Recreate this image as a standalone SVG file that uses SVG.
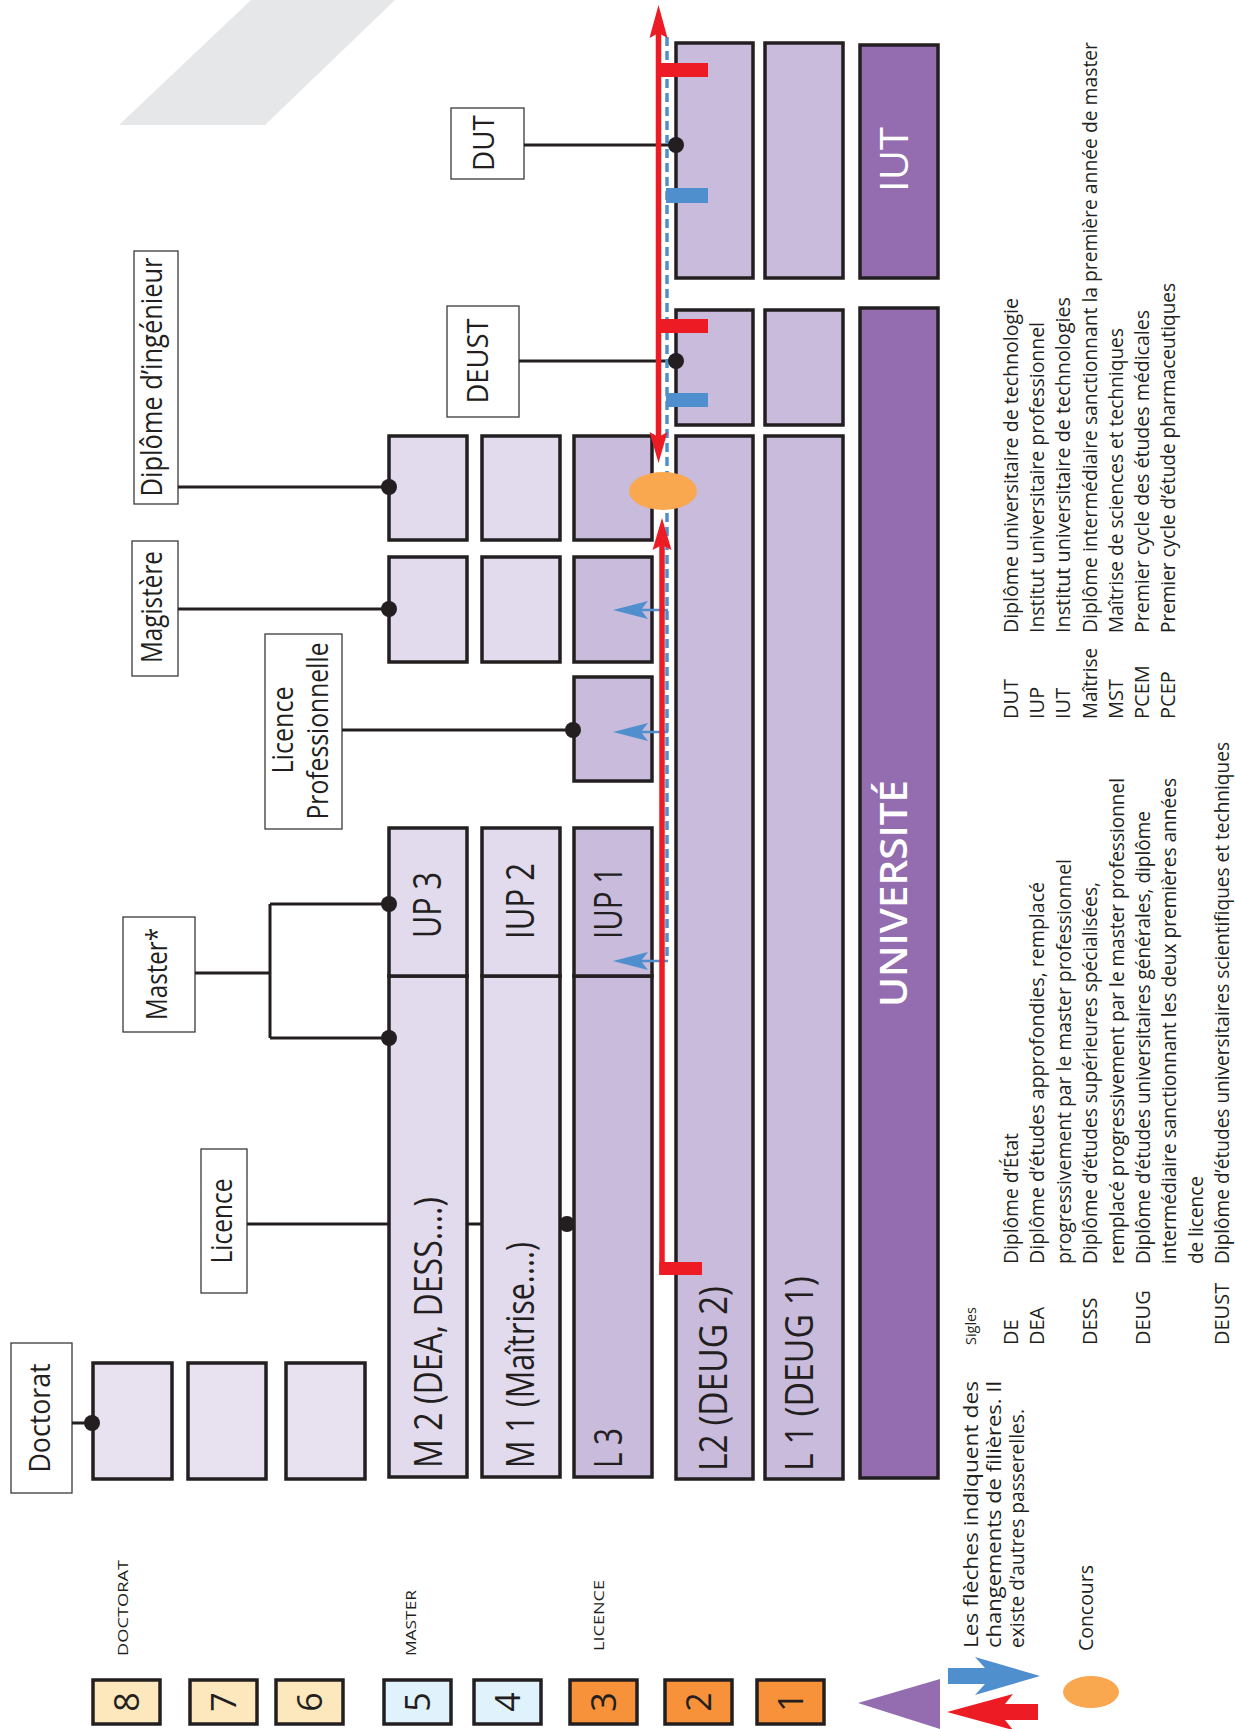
<svg xmlns="http://www.w3.org/2000/svg" width="1235" height="1729" viewBox="0 0 1235 1729">
<style>
text{font-family:"Open Sans","Liberation Sans",sans-serif;fill:#231f20}
.box{stroke:#231f20;stroke-width:3.5}
.doc{fill:#e8e2f0}
.lt{fill:#e2dbee}
.dk{fill:#c9bbdc}
.uni{fill:#946db0}
.lbl{fill:#fff;stroke:#3a3a3a;stroke-width:1.3}
.yl{fill:#fde8be}
.bl{fill:#e0f2fc}
.or{fill:#f7923a}
.conn{stroke:#231f20;stroke-width:3;fill:none}
.dot{fill:#231f20}
.red{fill:#ed1c24}
.blu{fill:#4f8fcd}
.big{font-size:38px}
.lab{font-size:30px}
.leg{font-size:20px}
.sm{font-size:14px}
.num{font-size:34px}
.wt{fill:#fff}
</style>

<polygon points="119,125 265,125 395,0 251,0" fill="#e6e7e8"/>

<g id="doctorat-years">
<rect class="box doc" x="93" y="1363" width="79" height="116"/>
<rect class="box doc" x="188" y="1363" width="78" height="116"/>
<rect class="box doc" x="286" y="1363" width="79" height="116"/>
</g>

<g id="m2">
<rect class="box lt" x="389" y="976" width="78" height="501"/>
<text class="big" textLength="271" lengthAdjust="spacingAndGlyphs" transform="translate(442,1468) rotate(-90)">M 2 (DEA, DESS....)</text>
</g>
<g id="m1">
<rect class="box lt" x="482" y="976" width="78" height="501"/>
<text class="big" textLength="226" lengthAdjust="spacingAndGlyphs" transform="translate(534,1468) rotate(-90)">M 1 (Maîtrise....)</text>
</g>
<g id="l3">
<rect class="box dk" x="574" y="976" width="78" height="501"/>
<text class="big" textLength="40" lengthAdjust="spacingAndGlyphs" transform="translate(622,1468) rotate(-90)">L 3</text>
</g>
<g id="iup3">
<rect class="box lt" x="389" y="828" width="78" height="148"/>
<text class="big" textLength="66" lengthAdjust="spacingAndGlyphs" transform="translate(441,938) rotate(-90)">UP 3</text>
</g>
<g id="iup2">
<rect class="box lt" x="482" y="828" width="78" height="148"/>
<text class="big" textLength="76" lengthAdjust="spacingAndGlyphs" transform="translate(534,939) rotate(-90)">IUP 2</text>
</g>
<g id="iup1">
<rect class="box dk" x="574" y="828" width="78" height="148"/>
<text class="big" textLength="72" lengthAdjust="spacingAndGlyphs" transform="translate(622,939) rotate(-90)">IUP 1</text>
</g>
<g id="licpro-year">
<rect class="box dk" x="574" y="677" width="78" height="104"/>
</g>
<g id="magistere-years">
<rect class="box lt" x="389" y="557" width="78" height="105"/>
<rect class="box lt" x="482" y="557" width="78" height="105"/>
<rect class="box dk" x="574" y="557" width="78" height="105"/>
</g>
<g id="ingenieur-years">
<rect class="box lt" x="389" y="436" width="78" height="104"/>
<rect class="box lt" x="482" y="436" width="78" height="104"/>
<rect class="box dk" x="574" y="436" width="78" height="104"/>
</g>
<g id="l2">
<rect class="box dk" x="676" y="436" width="77" height="1043"/>
<text class="big" textLength="185" lengthAdjust="spacingAndGlyphs" transform="translate(727,1471) rotate(-90)">L2 (DEUG 2)</text>
</g>
<g id="l1">
<rect class="box dk" x="765" y="436" width="78" height="1043"/>
<text class="big" textLength="195" lengthAdjust="spacingAndGlyphs" transform="translate(813,1471) rotate(-90)">L 1 (DEUG 1)</text>
</g>
<g id="universite">
<rect class="box uni" x="860" y="308" width="78" height="1170"/>
<text class="wt" font-size="37" font-weight="600" textLength="227" lengthAdjust="spacingAndGlyphs" transform="translate(907,1007) rotate(-90)">UNIVERSITÉ</text>
</g>
<g id="deust-years">
<rect class="box dk" x="676" y="310" width="77" height="115"/>
<rect class="box dk" x="765" y="310" width="78" height="115"/>
</g>
<g id="dut-years">
<rect class="box dk" x="676" y="43" width="77" height="235"/>
<rect class="box dk" x="765" y="43" width="78" height="235"/>
</g>
<g id="iut">
<rect class="box uni" x="860" y="45" width="78" height="233"/>
<text class="big wt" textLength="65" lengthAdjust="spacingAndGlyphs" transform="translate(908,192) rotate(-90)">IUT</text>
</g>

<g id="lbl-doctorat">
<rect class="lbl" x="11" y="1343" width="61" height="150"/>
<text class="lab" text-anchor="middle" textLength="109" lengthAdjust="spacingAndGlyphs" transform="translate(50,1418) rotate(-90)">Doctorat</text>
</g>
<g id="lbl-licence">
<rect class="lbl" x="201" y="1149" width="46" height="144"/>
<text class="lab" text-anchor="middle" textLength="85" lengthAdjust="spacingAndGlyphs" transform="translate(232,1221) rotate(-90)">Licence</text>
</g>
<g id="lbl-master">
<rect class="lbl" x="123" y="917" width="72" height="115"/>
<text class="lab" text-anchor="middle" textLength="92" lengthAdjust="spacingAndGlyphs" transform="translate(167,974) rotate(-90)">Master*</text>
</g>
<g id="lbl-licpro">
<rect class="lbl" x="265" y="634" width="77" height="195"/>
<text class="lab" text-anchor="middle" textLength="87" lengthAdjust="spacingAndGlyphs" transform="translate(293,730) rotate(-90)">Licence</text>
<text class="lab" text-anchor="middle" textLength="177" lengthAdjust="spacingAndGlyphs" transform="translate(328,731) rotate(-90)">Professionnelle</text>
</g>
<g id="lbl-magistere">
<rect class="lbl" x="132" y="541" width="46" height="135"/>
<text class="lab" text-anchor="middle" textLength="112" lengthAdjust="spacingAndGlyphs" transform="translate(162,607) rotate(-90)">Magistère</text>
</g>
<g id="lbl-ingenieur">
<rect class="lbl" x="134" y="251" width="44" height="253"/>
<text class="lab" text-anchor="middle" textLength="239" lengthAdjust="spacingAndGlyphs" transform="translate(162,377) rotate(-90)">Diplôme d’ingénieur</text>
</g>
<g id="lbl-deust">
<rect class="lbl" x="447" y="306" width="72" height="111"/>
<text class="lab" text-anchor="middle" textLength="85" lengthAdjust="spacingAndGlyphs" transform="translate(488,361) rotate(-90)">DEUST</text>
</g>
<g id="lbl-dut">
<rect class="lbl" x="451" y="108" width="73" height="71"/>
<text class="lab" text-anchor="middle" textLength="56" lengthAdjust="spacingAndGlyphs" transform="translate(494,143) rotate(-90)">DUT</text>
</g>

<g id="connectors">
<path class="conn" d="M72,1423H92 M247,1224H389 M467,1224H482 M195,973H270 M270,904V1038 M270,904H389 M270,1038H389 M342,730H573 M178,609H389 M178,487H389 M519,361H676 M524,145H676"/>
<line x1="667" y1="37" x2="667" y2="961" stroke="#4f8fcd" stroke-width="3.5" stroke-dasharray="9 5"/>
<rect class="blu" x="666" y="188" width="42" height="15"/>
<rect class="blu" x="666" y="393" width="42" height="14"/>
<g stroke="#4f8fcd" stroke-width="2.5">
<line x1="668" y1="610" x2="640" y2="610"/>
<line x1="668" y1="732" x2="640" y2="732"/>
<line x1="668" y1="961" x2="640" y2="961"/>
</g>
<polygon class="blu" points="613,610 648,601 641,610 648,619"/>
<polygon class="blu" points="613,732 648,723 641,732 648,741"/>
<polygon class="blu" points="613,961 648,952 641,961 648,970"/>
<line x1="658.5" y1="30" x2="658.5" y2="440" stroke="#ed1c24" stroke-width="5.5"/>
<polygon class="red" points="658.5,5 667.5,38 658.5,33 649.5,38"/>
<polygon class="red" points="658.5,463 667.5,432 658.5,437 649.5,432"/>
<rect class="red" x="656" y="63" width="52" height="14"/>
<rect class="red" x="656" y="319" width="52" height="14"/>
<line x1="662" y1="1275" x2="662" y2="542" stroke="#ed1c24" stroke-width="5.5"/>
<polygon class="red" points="662,518 671.5,550 662,545 652.5,550"/>
<rect class="red" x="659.3" y="1262" width="42.7" height="13"/>
<ellipse cx="663" cy="491" rx="34" ry="19" fill="#f9a84f"/>
<circle class="dot" cx="92" cy="1423" r="8"/>
<circle class="dot" cx="389" cy="904" r="8"/>
<circle class="dot" cx="389" cy="1038" r="8"/>
<circle class="dot" cx="567" cy="1224" r="8"/>
<circle class="dot" cx="389" cy="487" r="8"/>
<circle class="dot" cx="389" cy="609" r="8"/>
<circle class="dot" cx="573" cy="730" r="8"/>
<circle class="dot" cx="676" cy="361" r="8"/>
<circle class="dot" cx="676" cy="145" r="8"/>
</g>

<g id="levels">
<rect class="box yl" x="93" y="1680" width="67" height="44"/>
<rect class="box yl" x="190" y="1680" width="67" height="44"/>
<rect class="box yl" x="276" y="1680" width="67" height="44"/>
<rect class="box bl" x="384" y="1680" width="67" height="44"/>
<rect class="box bl" x="474" y="1680" width="67" height="44"/>
<rect class="box or" x="570" y="1680" width="67" height="44"/>
<rect class="box or" x="665" y="1680" width="67" height="44"/>
<rect class="box or" x="757" y="1680" width="67" height="44"/>
<g class="num" text-anchor="middle">
<text transform="translate(138.5,1702) rotate(-90)">8</text>
<text transform="translate(235.5,1702) rotate(-90)">7</text>
<text transform="translate(321.5,1702) rotate(-90)">6</text>
<text transform="translate(429.5,1702) rotate(-90)">5</text>
<text transform="translate(519.5,1702) rotate(-90)">4</text>
<text transform="translate(615.5,1702) rotate(-90)">3</text>
<text transform="translate(710.5,1702) rotate(-90)">2</text>
<text transform="translate(802.5,1702) rotate(-90)">1</text>
</g>
<text class="sm" textLength="96" lengthAdjust="spacingAndGlyphs" transform="translate(128,1656) rotate(-90)">DOCTORAT</text>
<text class="sm" textLength="66" lengthAdjust="spacingAndGlyphs" transform="translate(416,1656) rotate(-90)">MASTER</text>
<text class="sm" textLength="71" lengthAdjust="spacingAndGlyphs" transform="translate(604,1651) rotate(-90)">LICENCE</text>
</g>

<g id="legend">
<polygon points="858,1703 940,1679 940,1729" fill="#946db0"/>
<polygon class="blu" points="948,1668 985,1668 975,1657 1040,1676 975,1695 985,1684 948,1684"/>
<polygon class="red" points="1038,1704 1005,1704 1013,1694 947,1712 1013,1730 1005,1720 1038,1720"/>
<ellipse cx="1091" cy="1692" rx="28" ry="16" fill="#f9a84f"/>
<text class="leg" textLength="267" lengthAdjust="spacingAndGlyphs" transform="translate(978,1648) rotate(-90)">Les flèches indiquent des</text>
<text class="leg" textLength="267" lengthAdjust="spacingAndGlyphs" transform="translate(1001,1648) rotate(-90)">changements de filières. Il</text>
<text class="leg" textLength="239" lengthAdjust="spacingAndGlyphs" transform="translate(1024,1648) rotate(-90)">existe d’autres passerelles.</text>
<text class="leg" textLength="86" lengthAdjust="spacingAndGlyphs" transform="translate(1093,1651) rotate(-90)">Concours</text>
</g>

<g id="sigles">
<text class="sm" textLength="38" lengthAdjust="spacingAndGlyphs" transform="translate(976,1345) rotate(-90)">Sigles</text>
<g class="leg">
<text transform="translate(1018,1345) rotate(-90)">DE</text>
<text transform="translate(1044.4,1345) rotate(-90)">DEA</text>
<text transform="translate(1097.2,1345) rotate(-90)">DESS</text>
<text transform="translate(1150,1345) rotate(-90)">DEUG</text>
<text transform="translate(1229.2,1345) rotate(-90)">DEUST</text>
<text textLength="131" lengthAdjust="spacingAndGlyphs" transform="translate(1018,1264) rotate(-90)">Diplôme d’État</text>
<text textLength="382" lengthAdjust="spacingAndGlyphs" transform="translate(1044.4,1264) rotate(-90)">Diplôme d’études approfondies, remplacé</text>
<text textLength="405" lengthAdjust="spacingAndGlyphs" transform="translate(1070.8,1264) rotate(-90)">progressivement par le master professionnel</text>
<text textLength="382" lengthAdjust="spacingAndGlyphs" transform="translate(1097.2,1264) rotate(-90)">Diplôme d’études supérieures spécialisées,</text>
<text textLength="486" lengthAdjust="spacingAndGlyphs" transform="translate(1123.6,1264) rotate(-90)">remplacé progressivement par le master professionnel</text>
<text textLength="453" lengthAdjust="spacingAndGlyphs" transform="translate(1150,1264) rotate(-90)">Diplôme d’études universitaires générales, diplôme</text>
<text textLength="486" lengthAdjust="spacingAndGlyphs" transform="translate(1176.4,1264) rotate(-90)">intermédiaire sanctionnant les deux premières années</text>
<text textLength="88" lengthAdjust="spacingAndGlyphs" transform="translate(1202.8,1264) rotate(-90)">de licence</text>
<text textLength="522" lengthAdjust="spacingAndGlyphs" transform="translate(1229.2,1264) rotate(-90)">Diplôme d’études universitaires scientifiques et techniques</text>

<text transform="translate(1018,719) rotate(-90)">DUT</text>
<text transform="translate(1044.2,719) rotate(-90)">IUP</text>
<text transform="translate(1070.4,719) rotate(-90)">IUT</text>
<text textLength="71" lengthAdjust="spacingAndGlyphs" transform="translate(1096.6,719) rotate(-90)">Maîtrise</text>
<text transform="translate(1122.8,719) rotate(-90)">MST</text>
<text transform="translate(1149,719) rotate(-90)">PCEM</text>
<text transform="translate(1175.2,719) rotate(-90)">PCEP</text>
<text textLength="335" lengthAdjust="spacingAndGlyphs" transform="translate(1018,633) rotate(-90)">Diplôme universitaire de technologie</text>
<text textLength="311" lengthAdjust="spacingAndGlyphs" transform="translate(1044.2,633) rotate(-90)">Institut universitaire professionnel</text>
<text textLength="336" lengthAdjust="spacingAndGlyphs" transform="translate(1070.4,633) rotate(-90)">Institut universitaire de technologies</text>
<text textLength="591" lengthAdjust="spacingAndGlyphs" transform="translate(1096.6,633) rotate(-90)">Diplôme intermédiaire sanctionnant la première année de master</text>
<text textLength="305" lengthAdjust="spacingAndGlyphs" transform="translate(1122.8,633) rotate(-90)">Maîtrise de sciences et techniques</text>
<text textLength="323" lengthAdjust="spacingAndGlyphs" transform="translate(1149,633) rotate(-90)">Premier cycle des études médicales</text>
<text textLength="350" lengthAdjust="spacingAndGlyphs" transform="translate(1175.2,633) rotate(-90)">Premier cycle d’étude pharmaceutiques</text>
</g>
</g>
</svg>
